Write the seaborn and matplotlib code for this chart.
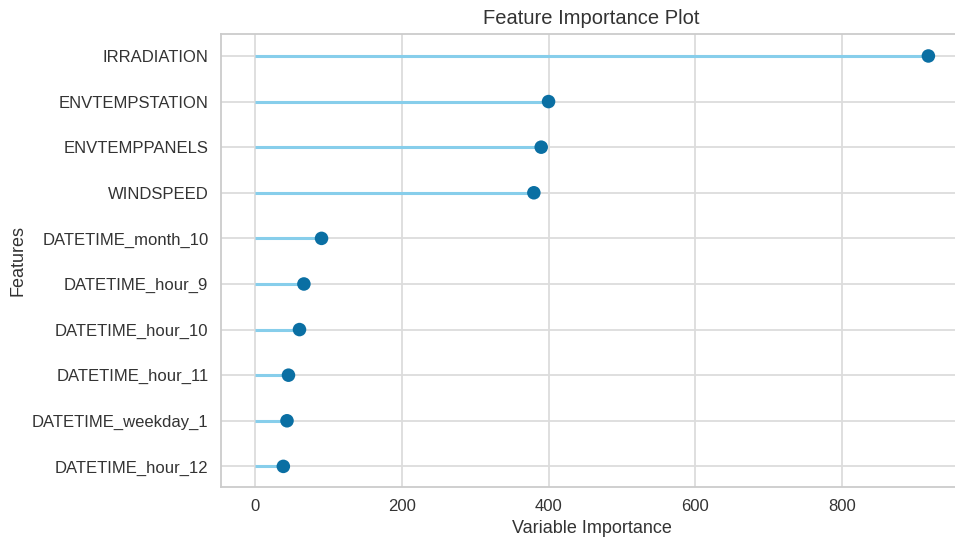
import pandas as pd
import numpy as np
import matplotlib
matplotlib.use("Agg")
import matplotlib.pyplot as plt
import seaborn as sns

features = ["IRRADIATION", "ENVTEMPSTATION", "ENVTEMPPANELS", "WINDSPEED",
            "DATETIME_month_10", "DATETIME_hour_9", "DATETIME_hour_10",
            "DATETIME_hour_11", "DATETIME_weekday_1", "DATETIME_hour_12"]
importance = [917, 400, 390, 380, 91, 67, 61, 46, 44, 39]

df = pd.DataFrame({"Features": features, "Variable Importance": importance})

sns.set_theme(style="whitegrid", rc={
    "axes.edgecolor": "#cccccc",
    "axes.linewidth": 1.3,
    "grid.color": "#dcdcdc",
    "grid.linewidth": 1.3,
    "text.color": "#333333",
    "axes.labelcolor": "#333333",
    "xtick.color": "#333333",
    "ytick.color": "#333333",
})
plt.rcParams["font.family"] = ["Liberation Sans", "DejaVu Sans"]

fig = plt.figure(figsize=(9.55, 5.41), dpi=100)
ax = fig.add_axes([0.2314, 0.1, 0.776, 0.837])

ypos = np.arange(len(df))
ax.hlines(y=ypos, xmin=0, xmax=df["Variable Importance"], color="skyblue", linewidth=2.2, zorder=2)
sns.scatterplot(x=df["Variable Importance"], y=ypos, color="#0a6fa3", s=95,
                edgecolor="none", zorder=3, ax=ax)

ax.set_yticks(ypos)
ax.set_yticklabels(features)
ax.set_xlim(-45.85, 962.85)
ax.set_ylim(len(df) - 0.55, -0.48)
ax.set_xticks([0, 200, 400, 600, 800])
ax.tick_params(axis="both", labelsize=12, length=0, pad=9)
ax.set_xlabel("Variable Importance", fontsize=13, labelpad=4)
ax.set_ylabel("Features", fontsize=13)
ax.set_title("Feature Importance Plot", fontsize=14.5, pad=7)

fig.savefig("out.png", dpi=100)
